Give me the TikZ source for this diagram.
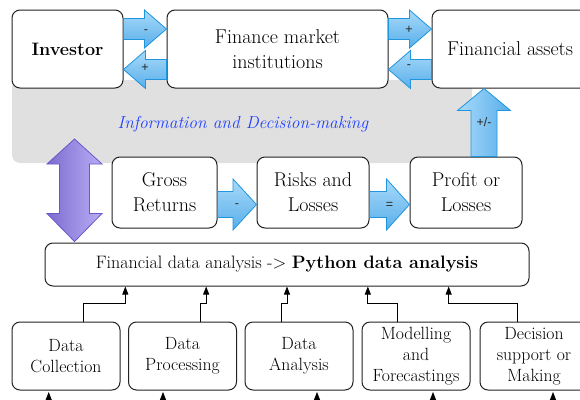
\documentclass[tikz,border=0pt]{standalone}
\usepackage{fontspec}
\newfontfamily\labfont{Liberation Sans}
\usetikzlibrary{calc,arrows.meta}
\definecolor{boxline}{HTML}{222222}
\definecolor{blueL}{HTML}{A8DAFA}
\definecolor{blueD}{HTML}{58AEEA}
\definecolor{blueB}{HTML}{1F95DD}
\definecolor{purpL}{HTML}{7E6CCF}
\definecolor{purpR}{HTML}{B8ADF5}
\definecolor{purpB}{HTML}{6A58C8}
\definecolor{graybg}{HTML}{E0E0E0}
\definecolor{infoblue}{HTML}{2040FF}
\tikzset{
  box/.style={draw=boxline, line width=1pt, fill=white, rounded corners=8pt,
    align=center, inner sep=0pt, font=\fontsize{20}{25}\selectfont},
  smallbox/.style={box, font=\fontsize{17.7}{21}\selectfont,
    minimum width=108pt, minimum height=68pt},
  midbox/.style={box, minimum width=112pt, minimum height=71pt},
  blockarrow/.style={draw=blueB, line width=0.8pt, top color=blueL, bottom color=blueD},
  vblockarrow/.style={draw=blueB, line width=0.8pt, left color=blueL, right color=blueD},
  purparrow/.style={draw=purpB, line width=0.8pt, left color=purpL, right color=purpR},
  conn/.style={draw=black, line width=0.8pt, -{Triangle[length=8pt,width=6pt]}},
  lab/.style={font=\labfont\fontsize{12.5}{12.5}\selectfont, text=black!85, inner sep=0pt},
  info/.style={font=\fontsize{17.4}{20}\selectfont\itshape, text=infoblue, inner sep=0pt},
}
% #1 style, #2 start, #3 tip, #4 shaft half, #5 head half, #6 signed head length
\newcommand{\hblock}[6]{\path[#1] let \p1=#2, \p2=#3 in
  (\x1,{\y1+#4pt}) -- ({\x2-(#6pt)},{\y1+#4pt}) -- ({\x2-(#6pt)},{\y1+#5pt}) --
  (\x2,\y1) -- ({\x2-(#6pt)},{\y1-#5pt}) -- ({\x2-(#6pt)},{\y1-#4pt}) --
  (\x1,{\y1-#4pt}) -- cycle;}
\newcommand{\vblock}[6]{\path[#1] let \p1=#2, \p2=#3 in
  ({\x1+#4pt},\y1) -- ({\x1+#4pt},{\y2-(#6pt)}) -- ({\x1+#5pt},{\y2-(#6pt)}) --
  (\x1,\y2) -- ({\x1-#5pt},{\y2-(#6pt)}) -- ({\x1-#4pt},{\y2-(#6pt)}) --
  ({\x1-#4pt},\y1) -- cycle;}
\begin{document}
\begin{tikzpicture}[x=1pt,y=-1pt]
\useasboundingbox (0,0) rectangle (580,399);
\clip (0,0) rectangle (580,399);
% background band
\fill[graybg, rounded corners=8pt] (12,80) rectangle (472,163);
\node[info] (infotxt) at (243,124) {Information and Decision-making};
% top row
\node[box, minimum width=111pt, minimum height=78pt, font=\fontsize{18}{25}\selectfont\bfseries] (inv) at (67.5,49) {Investor};
\node[box, minimum width=221pt, minimum height=78pt] (fmi) at (277.5,49) {Finance market\\institutions};
\node[box, minimum width=156pt, minimum height=78pt] (fa) at (510,49) {Financial assets};
% middle row
\node[midbox, minimum width=105pt] (gross) at (164.5,192.5) {Gross\\Returns};
\node[midbox] (risks) at (313,192.5) {Risks and\\Losses};
\node[midbox] (profit) at (466,192.5) {Profit or\\Losses};
% analysis bar
\node[box, minimum width=484pt, minimum height=43pt, font=\fontsize{18}{25}\selectfont] (fda) at (287,264.5)
  {Financial data analysis -> \textbf{Python data analysis}};
% bottom row
\node[smallbox] (dc) at (66,356) {Data\\Collection};
\node[smallbox] (dp) at (182.5,356) {Data\\Processing};
\node[smallbox] (da) at (299,356) {Data\\Analysis};
\node[smallbox] (mf) at (416,356) {Modelling\\and\\Forecastings};
\node[smallbox] (ds) at (534,356) {Decision\\support or\\Making};
% block arrows, top row
\hblock{blockarrow}{($(inv.east)+(0,-20)$)}{($(fmi.west)+(0,-20)$)}{10.5}{19}{22}
\hblock{blockarrow}{($(fmi.west)+(0,20.5)$)}{($(inv.east)+(0,20.5)$)}{10}{19}{-22}
\hblock{blockarrow}{($(fmi.east)+(0,-20)$)}{($(fa.west)+(0,-20)$)}{10.5}{19}{22}
\hblock{blockarrow}{($(fa.west)+(0,20.5)$)}{($(fmi.east)+(0,20.5)$)}{10}{19}{-22}
\node[lab] at ($(inv.east)!0.5!(fmi.west)+(1,-17)$) {-};
\node[lab] at ($(inv.east)!0.5!(fmi.west)+(0,19)$) {+};
\node[lab] at ($(fmi.east)!0.5!(fa.west)+(-1,-19)$) {+};
\node[lab] at ($(fmi.east)!0.5!(fa.west)+(-1,18)$) {-};
% block arrows, middle row
\hblock{blockarrow}{($(gross.east)+(0,12)$)}{($(risks.west)+(0,12)$)}{13}{25.5}{23.5}
\hblock{blockarrow}{($(risks.east)+(0,12)$)}{($(profit.west)+(0,12)$)}{13}{25.5}{23}
\node[lab] at ($(gross.east)!0.5!(risks.west)+(0,13.5)$) {-};
\node[lab] at ($(risks.east)!0.5!(profit.west)+(0,12.5)$) {=};
% up arrow to financial assets
\vblock{vblockarrow}{($(profit.north)+(18,0)$)}{($(fa.south)+(-26,0)$)}{13}{26.5}{22}
\node[lab] at ($(profit.north)+(18,-34)$) {+/-};
% purple double arrow
\coordinate (infotop) at (74.5,139);
\path[purparrow] let \p1=(infotop), \p2=($(fda.north west)+(29.5,-1)$) in
  (\x1,\y1) -- (\x1+27.5pt,\y1-25pt) -- (\x1+15pt,\y1-25pt) -- (\x1+15pt,\y2+28pt) --
  (\x1+27.5pt,\y2+28pt) -- (\x1,\y2) -- (\x1-27.5pt,\y2+28pt) -- (\x1-15pt,\y2+28pt) --
  (\x1-15pt,\y1-25pt) -- (\x1-27.5pt,\y1-25pt) -- cycle;
% connectors into the analysis bar
\draw[conn] ($(dc.north)+(17,0)$) |- ($(fda.south west)!1/6!(fda.south east)+(0,17)$)
  -- ($(fda.south west)!1/6!(fda.south east)$);
\draw[conn] ($(dp.north)+(17.5,0)$) |- ($(fda.south west)!2/6!(fda.south east)+(0,17)$)
  -- ($(fda.south west)!2/6!(fda.south east)$);
\draw[conn] ($(da.north)+(-18,0)$) |- ($(fda.south west)!3/6!(fda.south east)+(0,17)$)
  -- ($(fda.south west)!3/6!(fda.south east)$);
\draw[conn] ($(mf.north)+(-19,0)$) |- ($(fda.south west)!4/6!(fda.south east)+(0,17)$)
  -- ($(fda.south west)!4/6!(fda.south east)$);
\draw[conn] ($(ds.north)+(-17,0)$) |- ($(fda.south west)!5/6!(fda.south east)+(0,17)$)
  -- ($(fda.south west)!5/6!(fda.south east)$);
% incoming connectors from below
\coordinate (dcin) at ($(dc.south)+(-17.3,20)$);
\coordinate (dpin) at ($(dp.south)+(-19.5,20)$);
\coordinate (dain) at ($(da.south)+(18,20)$);
\coordinate (mfin) at ($(mf.south)+(17,20)$);
\coordinate (dsin) at ($(ds.south)+(19,20)$);
\draw[conn] (dcin) -- ($(dc.south)+(-17.3,1.5)$);
\draw[conn] (dpin) -- ($(dp.south)+(-19.5,1.5)$);
\draw[conn] (dain) -- ($(da.south)+(18,1.5)$);
\draw[conn] (mfin) -- ($(mf.south)+(17,1.5)$);
\draw[conn] (dsin) -- ($(ds.south)+(19,1.5)$);
\end{tikzpicture}
\end{document}
